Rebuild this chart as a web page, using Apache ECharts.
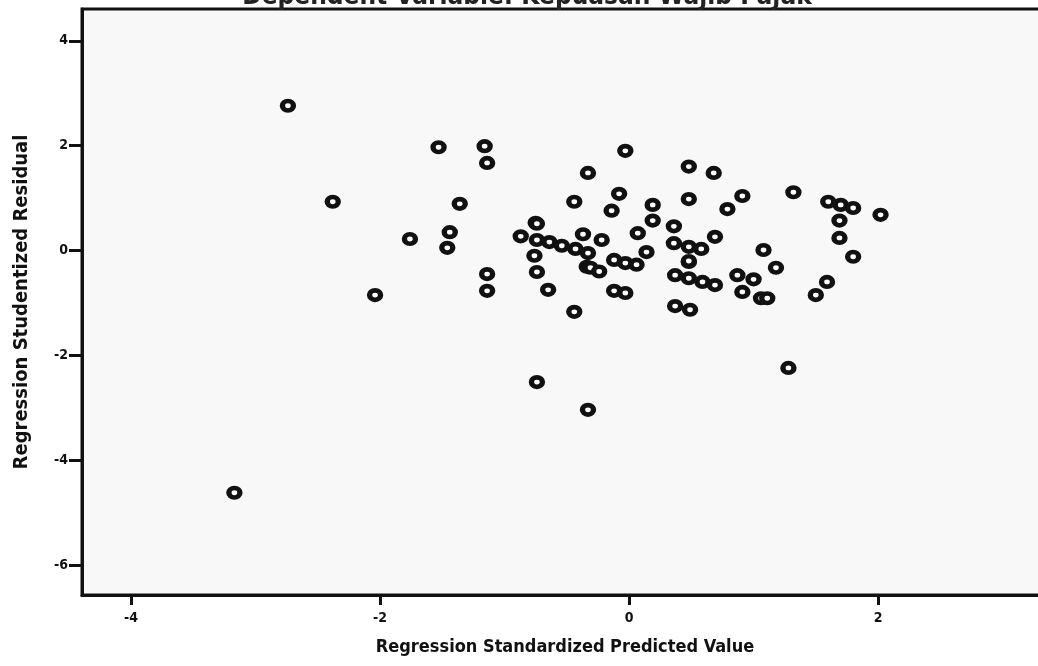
<!DOCTYPE html>
<html>
<head>
<meta charset="utf-8">
<script src="https://cdn.jsdelivr.net/npm/echarts@6/dist/echarts.min.js"></script>
<style>
    html, body {
        margin: 0;
        padding: 0;
        background: #ffffff;
        overflow: hidden;
    }

    /* a bit wider than the window so the right edge of the frame is cut off, like the source */
    #chart {
        width: 1060px;
        height: 666px;
    }
</style>
</head>
<body>
<div id="chart"></div>
<script>
    // standardized predicted value (x) and studentized residual (y)
    var predicted = [
        -2.74, -2.38, -3.17, -2.04, -1.76, -1.53, -1.44, -1.46, -1.36, -1.16,
        -1.14, -1.14, -1.14, -0.03, -0.33, 0.48, 0.68, -0.44, -0.08, -0.14,
        0.19, 0.19, 0.48, 0.91, 0.79, -0.75, -0.74, 0.36, -0.87, -0.74,
        -0.64, -0.54, -0.43, -0.37, -0.33, -0.22, 0.07, 0.14, 0.36, 0.48,
        0.58, 0.69, 1.08, 1.18, -0.76, -0.74, -0.65, -0.34, -0.31, -0.24,
        -0.12, -0.03, 0.06, 0.48, 0.48, 0.37, 0.48, 0.59, 0.69, 0.87,
        1.00, 0.91, 1.06, 1.11, -0.12, -0.03, 0.37, 0.49, -0.44, 1.32,
        1.60, 1.70, 1.80, 2.02, 1.69, 1.69, 1.80, 1.59, 1.50, -0.74,
        -0.33, 1.28
    ];
    var residual = [
        2.76, 0.93, -4.62, -0.85, 0.22, 1.97, 0.35, 0.05, 0.89, 1.99,
        1.67, -0.45, -0.77, 1.90, 1.48, 1.60, 1.48, 0.93, 1.08, 0.76,
        0.87, 0.57, 0.98, 1.04, 0.79, 0.53, 0.51, 0.46, 0.27, 0.20,
        0.16, 0.09, 0.03, 0.31, -0.05, 0.20, 0.33, -0.03, 0.14, 0.07,
        0.03, 0.26, 0.01, -0.33, -0.10, -0.41, -0.75, -0.31, -0.33, -0.40,
        -0.18, -0.24, -0.27, -0.22, -0.20, -0.47, -0.53, -0.60, -0.66, -0.47,
        -0.55, -0.79, -0.91, -0.91, -0.77, -0.81, -1.06, -1.13, -1.17, 1.11,
        0.93, 0.87, 0.81, 0.68, 0.57, 0.24, -0.12, -0.60, -0.85, -2.51,
        -3.04, -2.24
    ];
    var xTicks = [-4, -2, 0, 2];
    var yTicks = [-6, -4, -2, 0, 2, 4];

    var points = predicted.map(function (x, i) {
        return [x, residual[i]];
    });

    var font = "'DejaVu Sans Condensed', 'DejaVu Sans', 'Liberation Sans', sans-serif";

    var chart = echarts.init(document.getElementById('chart'));
    chart.setOption({
        backgroundColor: '#ffffff',
        animation: false,
        title: {
            text: 'Dependent Variable: Kepuasan Wajib Pajak',
            left: 522,
            top: -21,
            textAlign: 'center',
            textStyle: {
                fontFamily: font,
                fontSize: 26,
                fontWeight: 'bold',
                color: '#222'
            }
        },
        grid: {
            left: 82,
            top: 9,
            right: 12,
            bottom: 71,
            show: true,
            backgroundColor: '#f8f8f8',
            borderColor: '#111',
            borderWidth: 3
        },
        xAxis: {
            type: 'value',
            min: -4.394,
            max: 3.365,
            name: 'Regression Standardized Predicted Value',
            nameLocation: 'middle',
            nameGap: 43,
            nameTextStyle: {
                fontFamily: font,
                fontSize: 18,
                fontWeight: 'bold',
                color: '#111'
            },
            axisLine: {onZero: false, lineStyle: {color: '#111', width: 3}},
            axisTick: {
                show: true,
                length: 10,
                customValues: xTicks,
                lineStyle: {color: '#111', width: 3}
            },
            axisLabel: {
                customValues: xTicks,
                margin: 16,
                fontFamily: font,
                fontSize: 14,
                fontWeight: 'bold',
                color: '#111'
            },
            splitLine: {show: false}
        },
        yAxis: {
            type: 'value',
            min: -6.571,
            max: 4.606,
            name: 'Regression Studentized Residual',
            nameLocation: 'middle',
            nameGap: 50,
            nameTextStyle: {
                fontFamily: font,
                fontSize: 20,
                fontWeight: 'bold',
                color: '#111'
            },
            axisLine: {onZero: false, lineStyle: {color: '#111', width: 3}},
            axisTick: {
                show: true,
                length: 13,
                customValues: yTicks,
                lineStyle: {color: '#111', width: 3}
            },
            axisLabel: {
                customValues: yTicks,
                margin: 14,
                fontFamily: font,
                fontSize: 14,
                fontWeight: 'bold',
                color: '#111'
            },
            splitLine: {show: false}
        },
        series: [
            {
                type: 'scatter',
                data: points,
                symbol: 'circle',
                symbolSize: [11, 9.5],
                itemStyle: {
                    color: '#ffffff',
                    borderColor: '#111',
                    borderWidth: 5,
                    opacity: 1
                }
            }
        ]
    });
</script>
</body>
</html>
